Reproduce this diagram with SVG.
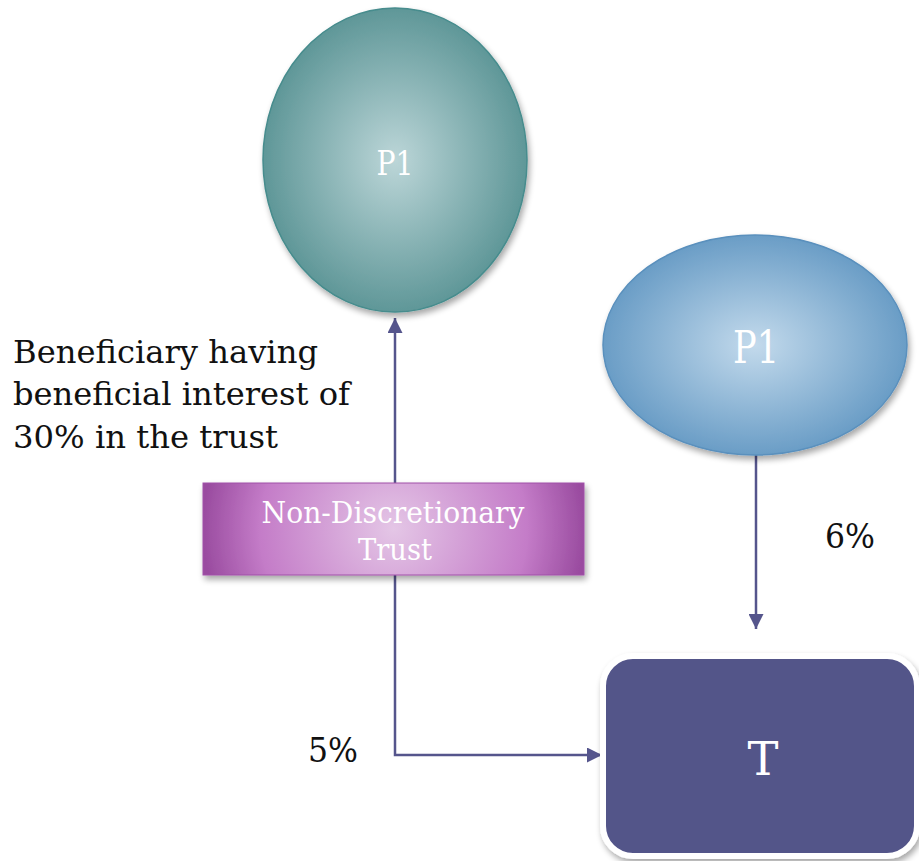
<svg xmlns="http://www.w3.org/2000/svg" width="919" height="861" viewBox="0 0 919 861">
  <style>
    .lbl { font-family: "DejaVu Serif", "Liberation Serif", serif; fill: #ffffff; text-anchor: middle; }
    .note { font-family: "DejaVu Serif", "Liberation Serif", serif; fill: #111111; }
    .conn { fill: none; stroke: #55558c; stroke-width: 2.5; }
  </style>
  <defs>
    <radialGradient id="gTeal" cx="50%" cy="50%" r="50%">
      <stop offset="0" stop-color="#bcd6d8"/>
      <stop offset="1" stop-color="#5f9798"/>
    </radialGradient>
    <radialGradient id="gBlue" cx="50%" cy="50%" r="50%">
      <stop offset="0" stop-color="#c3daec"/>
      <stop offset="1" stop-color="#6a9dc6"/>
    </radialGradient>
    <radialGradient id="gPurple" cx="50%" cy="50%" r="50%" gradientTransform="translate(0.5 0.5) scale(1 4) translate(-0.5 -0.5)">
      <stop offset="0" stop-color="#e4c6e6"/>
      <stop offset="0.7" stop-color="#c47cc8"/>
      <stop offset="1" stop-color="#9a4ca0"/>
    </radialGradient>
    <filter id="shadow" x="-10%" y="-10%" width="130%" height="130%">
      <feGaussianBlur in="SourceAlpha" stdDeviation="3"/>
      <feOffset dx="2" dy="4" result="b"/>
      <feComponentTransfer><feFuncA type="linear" slope="0.35"/></feComponentTransfer>
      <feMerge><feMergeNode/><feMergeNode in="SourceGraphic"/></feMerge>
    </filter>
    <marker id="arrow" viewBox="0 0 10 10" refX="10" refY="5" markerWidth="6" markerHeight="6" markerUnits="strokeWidth" orient="auto">
      <path d="M0,0 L10,5 L0,10 Z" fill="#55558c"/>
    </marker>
  </defs>

  <g id="connectors">
    <line class="conn" x1="395" y1="483" x2="395" y2="318" marker-end="url(#arrow)"/>
    <polyline class="conn" points="395,575 395,755 602,755" marker-end="url(#arrow)"/>
    <line class="conn" x1="756" y1="455" x2="756" y2="629" marker-end="url(#arrow)"/>
  </g>

  <g id="p1-top">
    <ellipse cx="395" cy="160" rx="132" ry="152" fill="url(#gTeal)" stroke="#468c8d" stroke-width="1.5" filter="url(#shadow)"/>
    <text class="lbl" x="395" y="175" font-size="33" textLength="37" lengthAdjust="spacingAndGlyphs">P1</text>
  </g>

  <g id="p1-right">
    <ellipse cx="755" cy="345" rx="152" ry="110" fill="url(#gBlue)" stroke="#5a90bd" stroke-width="1.5" filter="url(#shadow)"/>
    <text class="lbl" x="756" y="363" font-size="44" textLength="46" lengthAdjust="spacingAndGlyphs">P1</text>
  </g>

  <g id="trust">
    <rect x="203" y="483" width="381" height="92" fill="url(#gPurple)" stroke="#a050a8" stroke-width="1" filter="url(#shadow)"/>
    <text class="lbl" x="393" y="523" font-size="29" textLength="263" lengthAdjust="spacingAndGlyphs">Non-Discretionary</text>
    <text class="lbl" x="395" y="560" font-size="29" textLength="74" lengthAdjust="spacingAndGlyphs">Trust</text>
  </g>

  <g id="t-node">
    <rect x="603" y="656" width="314" height="200" rx="30" ry="30" fill="#535489" stroke="#ffffff" stroke-width="6" filter="url(#shadow)"/>
    <text class="lbl" x="763" y="775" font-size="47" textLength="31" lengthAdjust="spacingAndGlyphs">T</text>
  </g>

  <g id="notes">
    <text class="note" x="13" y="363" font-size="32" textLength="305" lengthAdjust="spacingAndGlyphs">Beneficiary having</text>
    <text class="note" x="13" y="405" font-size="32" textLength="337" lengthAdjust="spacingAndGlyphs">beneficial interest of</text>
    <text class="note" x="13" y="448" font-size="32" textLength="265" lengthAdjust="spacingAndGlyphs">30% in the trust</text>
    <text class="note" x="825" y="548" font-size="34" textLength="50" lengthAdjust="spacingAndGlyphs">6%</text>
    <text class="note" x="308" y="762" font-size="34" textLength="50" lengthAdjust="spacingAndGlyphs">5%</text>
  </g>
</svg>
